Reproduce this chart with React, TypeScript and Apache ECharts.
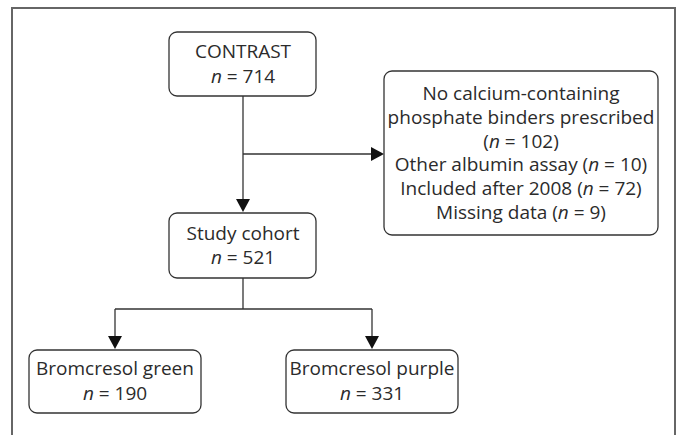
import React, { useEffect, useRef } from "react";
import * as echarts from "echarts";

const boxTitles = ["CONTRAST", "Study cohort", "Bromcresol green", "Bromcresol purple"];
const boxCounts = [714, 521, 190, 331];
const exclusionLabels = [
  "No calcium-containing\nphosphate binders prescribed",
  "Other albumin assay",
  "Included after 2008",
  "Missing data",
];
const exclusionCounts = [102, 10, 72, 9];

const FONT = "'Open Sans', 'Noto Sans', sans-serif";
const FS = 19;
const TXT = "#2b2b2b";
const LINE = "#333";

export default function App() {
  const ref = useRef<HTMLDivElement>(null);
  useEffect(() => {
    if (!ref.current) return;
    const chart = echarts.init(ref.current, null, { renderer: "svg" });
    const mkRich = (lh: number) => ({
      i: { fontStyle: "italic", fontSize: FS, lineHeight: lh, fontFamily: FONT, fill: TXT } as any,
      r: { fontSize: FS, lineHeight: lh, fontFamily: FONT, fill: TXT } as any,
    });
    const box = (x: number, y: number, w: number, h: number) => ({
      type: "rect",
      shape: { x, y, width: w, height: h, r: 8 },
      style: { fill: "#fff", stroke: LINE, lineWidth: 1.3 },
    });
    const text = (x: number, y: number, t: string, lh: number) => ({
      type: "text",
      x,
      y,
      style: {
        text: t,
        rich: mkRich(lh),
        fontSize: FS,
        lineHeight: lh,
        fontFamily: FONT,
        fill: TXT,
        align: "center",
        verticalAlign: "middle",
      },
    });
    const nLine = (n: number) => `{i|n}{r| = ${n}}`;
    const twoLine = (title: string, n: number) => `{r|${title}}\n${nLine(n)}`;
    const exclText =
      exclusionLabels[0]
        .split("\n")
        .map((s) => `{r|${s}}`)
        .join("\n") +
      `\n{r|(}{i|n}{r| = ${exclusionCounts[0]})}` +
      [1, 2, 3]
        .map((k) => `\n{r|${exclusionLabels[k]} (}{i|n}{r| = ${exclusionCounts[k]})}`)
        .join("");
    const line = (x1: number, y1: number, x2: number, y2: number) => ({
      type: "line",
      shape: { x1, y1, x2, y2 },
      style: { stroke: LINE, lineWidth: 1.3 },
    });
    const arrowDown = (x: number, tip: number) => ({
      type: "polygon",
      shape: { points: [[x - 7, tip - 13], [x + 7, tip - 13], [x, tip]] },
      style: { fill: "#111" },
    });
    const arrowRight = (tip: number, y: number) => ({
      type: "polygon",
      shape: { points: [[tip - 13, y - 7], [tip - 13, y + 7], [tip, y]] },
      style: { fill: "#111" },
    });

    const elements: any[] = [
      // outer frame
      { type: "polyline", shape: { points: [[12, 440], [12, 8], [675, 8], [675, 440]] }, style: { stroke: "#666", lineWidth: 2, fill: "none" } },
      // connectors
      line(243, 96, 243, 200),
      arrowDown(243, 212),
      line(243, 154, 372, 154),
      arrowRight(384, 154),
      line(243, 278, 243, 309),
      line(115, 309, 372, 309),
      line(115, 309, 115, 337),
      line(372, 309, 372, 337),
      arrowDown(115, 349),
      arrowDown(372, 349),
      // boxes
      box(169, 32, 147, 64),
      box(384, 71, 274, 164),
      box(169, 213, 147, 65),
      box(29, 350, 172, 63),
      box(286, 350, 172, 63),
      // texts
      text(243, 63.5, twoLine(boxTitles[0], boxCounts[0]), 25),
      text(243, 245, twoLine(boxTitles[1], boxCounts[1]), 24),
      text(115, 380.5, twoLine(boxTitles[2], boxCounts[2]), 25),
      text(372, 380.5, twoLine(boxTitles[3], boxCounts[3]), 25),
      text(521, 152.5, exclText, 23.8),
    ];

    chart.setOption({ animation: false, graphic: { elements } });
    return () => chart.dispose();
  }, []);
  return <div ref={ref} style={{ width: 681, height: 435, position: "absolute", left: 0, top: 0 }} />;
}
